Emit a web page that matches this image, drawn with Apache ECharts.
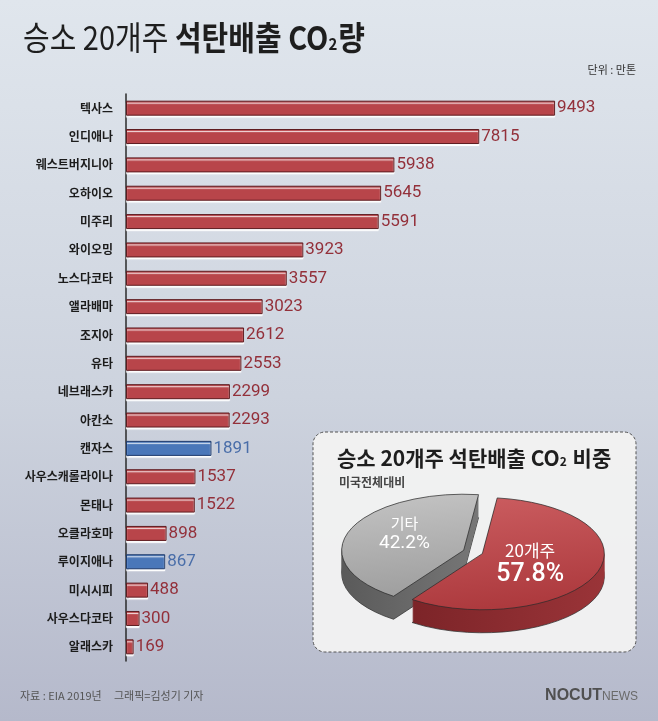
<!DOCTYPE html>
<html>
<head>
<meta charset="utf-8">
<script src="https://cdn.jsdelivr.net/npm/echarts@6/dist/echarts.min.js"></script>
<style>
html,body{margin:0;padding:0;}
#c{width:658px;height:721px;}
</style>
</head>
<body>
<div id="c"></div>
<script>
// ---- data ----
const categories = ['텍사스','인디애나','웨스트버지니아','오하이오','미주리','와이오밍','노스다코타','앨라배마','조지아','유타','네브래스카','아칸소','캔자스','사우스캐롤라이나','몬태나','오클라호마','루이지애나','미시시피','사우스다코타','알래스카'];
const values = [9493,7815,5938,5645,5591,3923,3557,3023,2612,2553,2299,2293,1891,1537,1522,898,867,488,300,169];
const blueStates = ['캔자스','루이지애나'];
const pieNames = ['20개주','기타'];
const pieValues = [57.8, 42.2];

// ---- styles ----
const FONT = "'Noto Sans CJK KR','Noto Sans',sans-serif";
const RED = '#b8454a', RED_BORDER = '#5e1c20', RED_LABEL = '#93303a';
const BLUE = '#4a77b9', BLUE_BORDER = '#1e3a6b', BLUE_LABEL = '#4a6ea9';
const PIE = {cx: 473, cy: 552, r: 122, sy: 0.46, depth: 23, explode: 10, start: -83 * Math.PI / 180};
const pieStyle = [
  {top: ['#cc5e61', '#ad3a3e'], side: ['#7c2428', '#9a3438'], lab1: 17, lab2: 25, lr: 0.42, dy: 2},
  {top: ['#c4c4c4', '#9f9f9f'], side: ['#5a5a5a', '#777777'], lab1: 15, lab2: 19, lr: 0.52, dy: -6}
];

const chart = echarts.init(document.getElementById('c'), null, {renderer: 'canvas'});

function renderPie(params, api) {
  const i = params.dataIndex;
  const total = pieValues.reduce((a, b) => a + b, 0);
  let before = 0;
  for (let k = 0; k < i; k++) before += pieValues[k];
  const a0 = PIE.start + before / total * 2 * Math.PI;
  const a1 = a0 + api.value(0) / total * 2 * Math.PI;
  const mid = (a0 + a1) / 2;
  const cx = PIE.cx + PIE.explode * Math.cos(mid);
  const cy = PIE.cy + PIE.explode * Math.sin(mid) * PIE.sy;
  const st = pieStyle[i];
  const baseZ = i === 0 ? 100 : 0;
  const children = [];
  for (let d = PIE.depth; d >= 1; d--) {
    children.push({
      type: 'sector',
      shape: {cx: 0, cy: 0, r: PIE.r, startAngle: a0, endAngle: a1, clockwise: true},
      x: cx, y: cy + d, scaleY: PIE.sy,
      z2: baseZ + (PIE.depth - d),
      style: {
        fill: {type: 'linear', x: 0, y: 0, x2: 1, y2: 0, colorStops: [{offset: 0, color: st.side[0]}, {offset: 1, color: st.side[1]}]},
        stroke: d === PIE.depth ? '#2b2b2b' : null,
        lineWidth: 1, strokeNoScale: true
      }
    });
  }
  children.push({
    type: 'sector',
    shape: {cx: 0, cy: 0, r: PIE.r, startAngle: a0, endAngle: a1, clockwise: true},
    x: cx, y: cy, scaleY: PIE.sy,
    z2: baseZ + 50,
    style: {
      fill: {type: 'linear', x: 0, y: 0, x2: 0.3, y2: 1, colorStops: [{offset: 0, color: st.top[0]}, {offset: 1, color: st.top[1]}]},
      stroke: '#2b2b2b', lineWidth: 1, strokeNoScale: true
    }
  });
  const lr = PIE.r * st.lr;
  const lx = cx + lr * Math.cos(mid);
  const ly = cy + lr * Math.sin(mid) * PIE.sy + st.dy;
  children.push({
    type: 'text', x: lx, y: ly, z2: baseZ + 60,
    style: {
      text: '{a|' + api.value(1) + '}\n{b|' + api.value(0).toFixed(1) + '%}',
      align: 'center', verticalAlign: 'middle',
      rich: {
        a: {fontSize: st.lab1, fontFamily: FONT, fill: '#ffffff', lineHeight: st.lab1 + 4, align: 'center'},
        b: {fontSize: st.lab2, fontFamily: "Roboto,'Noto Sans',sans-serif", fill: '#ffffff', lineHeight: st.lab2 + 2, align: 'center', fontWeight: i === 0 ? 500 : 'normal'}
      }
    }
  });
  return {type: 'group', children};
}

const option = {
  backgroundColor: {type: 'linear', x: 0, y: 0, x2: 0, y2: 1, colorStops: [{offset: 0, color: '#e0e6ed'}, {offset: 0.55, color: '#cdd3de'}, {offset: 1, color: '#b5b9cb'}]},
  animation: false,
  grid: {left: 126, right: 80, top: 94, bottom: 60, containLabel: false},
  xAxis: {type: 'value', min: 0, max: 10000, show: false},
  yAxis: {
    type: 'category', data: categories, inverse: true,
    axisLine: {show: true, lineStyle: {color: '#2a2a2a', width: 1.5}},
    axisTick: {show: false},
    axisLabel: {margin: 13, fontSize: 12, fontWeight: 'bold', color: '#1c1c1c', fontFamily: FONT},
    splitLine: {show: false}
  },
  series: [
    {
      type: 'bar', barWidth: 15,
      data: values.map((v, i) => {
        const blue = blueStates.includes(categories[i]);
        return {
          value: v,
          itemStyle: {color: blue ? BLUE : RED, borderColor: blue ? BLUE_BORDER : RED_BORDER, borderWidth: 1,
            shadowColor: 'rgba(255,255,255,0.95)', shadowOffsetY: 2, shadowOffsetX: 0, shadowBlur: 1},
          label: {color: blue ? BLUE_LABEL : RED_LABEL}
        };
      }),
      label: {show: true, position: 'right', distance: 2, fontSize: 17, fontFamily: "Roboto,'Noto Sans',sans-serif"}
    },
    {
      type: 'custom', coordinateSystem: 'none', z: 5,
      data: pieValues.map((v, i) => [v, pieNames[i]]),
      renderItem: renderPie
    }
  ],
  graphic: [
    {
      type: 'text', x: 23, y: 38, scaleY: 1.12, z: 10,
      style: {
        text: '{a|승소 20개주 }{b|석탄배출 CO}{s|2}{b|량}',
        verticalAlign: 'middle',
        rich: {
          a: {fontSize: 29, fontFamily: FONT, fill: '#1e1e1e', fontWeight: 'normal'},
          b: {fontSize: 29, fontFamily: FONT, fill: '#1e1e1e', fontWeight: 'bold'},
          s: {fontSize: 15, fontFamily: FONT, fill: '#1e1e1e', fontWeight: 'bold', verticalAlign: 'bottom', padding: [0, 1, 2, 0]}
        }
      }
    },
    {
      type: 'text', right: 22, top: 64, z: 10,
      style: {text: '단위 : 만톤', fontSize: 11, fontFamily: FONT, fill: '#333'}
    },
    {
      type: 'rect', z: 1,
      shape: {x: 313, y: 432, width: 323, height: 220, r: 12},
      style: {fill: 'rgba(242,242,242,0.97)', stroke: '#555', lineWidth: 1, lineDash: [3, 2]}
    },
    {
      type: 'text', left: 337, top: 448, z: 10,
      style: {
        text: '{a|승소 20개주 석탄배출 CO}{s|2}{a| 비중}',
        rich: {
          a: {fontSize: 21, fontFamily: FONT, fill: '#1e1e1e', fontWeight: 'bold'},
          s: {fontSize: 12, fontFamily: FONT, fill: '#1e1e1e', fontWeight: 'bold', verticalAlign: 'bottom', padding: [0, 1, 2, 0]}
        }
      }
    },
    {
      type: 'text', left: 339, top: 476, z: 10,
      style: {text: '미국전체대비', fontSize: 12, fontWeight: 'bold', fontFamily: FONT, fill: '#444'}
    },
    {
      type: 'text', left: 20, top: 690, z: 10,
      style: {text: '자료 : EIA 2019년     그래픽=김성기 기자', fontSize: 11, fontFamily: FONT, fill: '#555'}
    },
    {
      type: 'text', right: 20, top: 688, z: 10,
      style: {
        text: '{a|NOCUT}{b|NEWS}',
        rich: {
          a: {fontSize: 16, fontWeight: 'bold', fontFamily: "'Liberation Sans',Arial,sans-serif", fill: '#505050', verticalAlign: 'bottom'},
          b: {fontSize: 12, fontFamily: "'Liberation Sans',Arial,sans-serif", fill: '#6a6a6a', verticalAlign: 'bottom', padding: [0, 0, 1, 0]}
        }
      }
    }
  ]
};
chart.setOption(option);
</script>
</body>
</html>
